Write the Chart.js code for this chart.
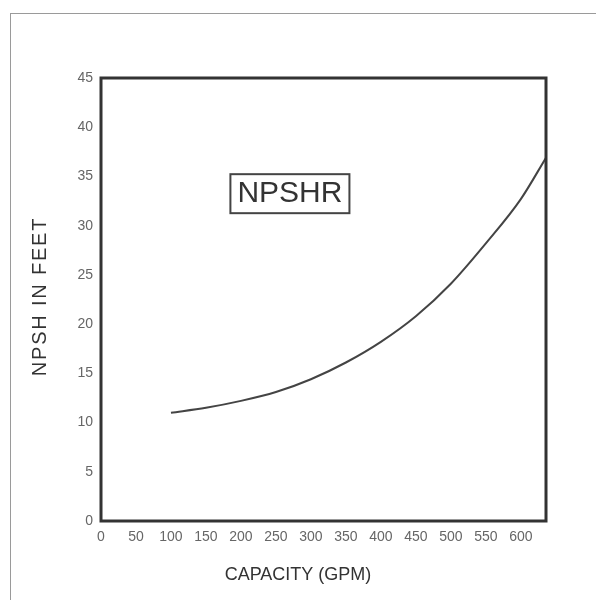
<!DOCTYPE html>
<html>
<head>
<meta charset="utf-8">
<script src="https://cdn.jsdelivr.net/npm/chart.js@4"></script>
<style>
  html, body { margin: 0; padding: 0; background: #fff; }
  #wrap { position: relative; width: 596px; height: 600px; }
  #frame { position: absolute; left: 10px; top: 13px; right: 0; bottom: 0;
           border-left: 1px solid #9a9a9a; border-top: 1px solid #9a9a9a; pointer-events: none; }
  canvas { position: absolute; left: 0; top: 0; }
</style>
</head>
<body>
<div id="wrap">
  <canvas id="c" width="596" height="600"></canvas>
  <div id="frame"></div>
</div>
<script>
// Data
const capacityGpm = [100, 150, 200, 250, 300, 350, 400, 450, 500, 550, 600, 636];
const npshrFeet   = [11.0, 11.5, 12.2, 13.1, 14.4, 16.1, 18.2, 20.8, 24.1, 28.2, 32.7, 36.9];
const xTickValues = [0, 50, 100, 150, 200, 250, 300, 350, 400, 450, 500, 550, 600];
const yTickValues = [0, 5, 10, 15, 20, 25, 30, 35, 40, 45];
const xTitle = 'CAPACITY (GPM)';
const yTitle = 'NPSH IN FEET';
const curveLabel = 'NPSHR';
const labelAt = { x: 270, y: 33.3 };

const FONT = '"Liberation Sans", Arial, Helvetica, sans-serif';

const decor = {
  id: 'decor',
  afterDraw(chart) {
    const { ctx, chartArea: a, scales } = chart;
    ctx.save();
    // plot frame
    ctx.strokeStyle = '#333';
    ctx.lineWidth = 3;
    ctx.strokeRect(a.left, a.top, a.right - a.left, a.bottom - a.top);

    // NPSHR label box, positioned in data space
    const cx = scales.x.getPixelForValue(labelAt.x);
    const cy = scales.y.getPixelForValue(labelAt.y);
    ctx.font = '30px ' + FONT;
    ctx.fillStyle = '#333';
    ctx.textAlign = 'center';
    ctx.textBaseline = 'middle';
    const w = ctx.measureText(curveLabel).width;
    ctx.fillText(curveLabel, cx, cy + 1);
    ctx.lineWidth = 2;
    ctx.strokeStyle = '#444';
    ctx.strokeRect(cx - w / 2 - 7, cy - 19, w + 14, 39);

    // axis titles
    ctx.fillStyle = '#333';
    ctx.font = '18px ' + FONT;
    ctx.fillText(xTitle, a.left + 197, a.bottom + 54);
    ctx.save();
    ctx.translate(40, (a.top + a.bottom) / 2 - 3);
    ctx.rotate(-Math.PI / 2);
    ctx.font = '20px ' + FONT;
    ctx.letterSpacing = '1.8px';
    ctx.fillText(yTitle, 0, 0);
    ctx.restore();
    ctx.restore();
  }
};

new Chart(document.getElementById('c'), {
  type: 'line',
  data: {
    datasets: [{
      label: curveLabel,
      data: capacityGpm.map((x, i) => ({ x, y: npshrFeet[i] })),
      borderColor: '#444',
      borderWidth: 2,
      pointRadius: 0,
      cubicInterpolationMode: 'monotone',
      fill: false
    }]
  },
  options: {
    responsive: false,
    animation: false,
    layout: { padding: { top: 78, right: 50, left: 0, bottom: 0 } },
    plugins: { legend: { display: false }, tooltip: { enabled: false } },
    scales: {
      x: {
        type: 'linear',
        min: 0, max: 636,
        grid: { display: false, drawTicks: false },
        border: { display: false },
        afterBuildTicks: s => { s.ticks = xTickValues.map(v => ({ value: v })); },
        afterFit: s => { s.height = 79; },
        ticks: { padding: 8, color: '#666', font: { family: FONT, size: 14 }, maxRotation: 0, autoSkip: false }
      },
      y: {
        type: 'linear',
        min: 0, max: 45,
        grid: { display: false, drawTicks: false },
        border: { display: false },
        afterBuildTicks: s => { s.ticks = yTickValues.map(v => ({ value: v })); },
        afterFit: s => { s.width = 101; },
        ticks: { padding: 8, color: '#666', font: { family: FONT, size: 14 } }
      }
    }
  },
  plugins: [decor]
});
</script>
</body>
</html>
